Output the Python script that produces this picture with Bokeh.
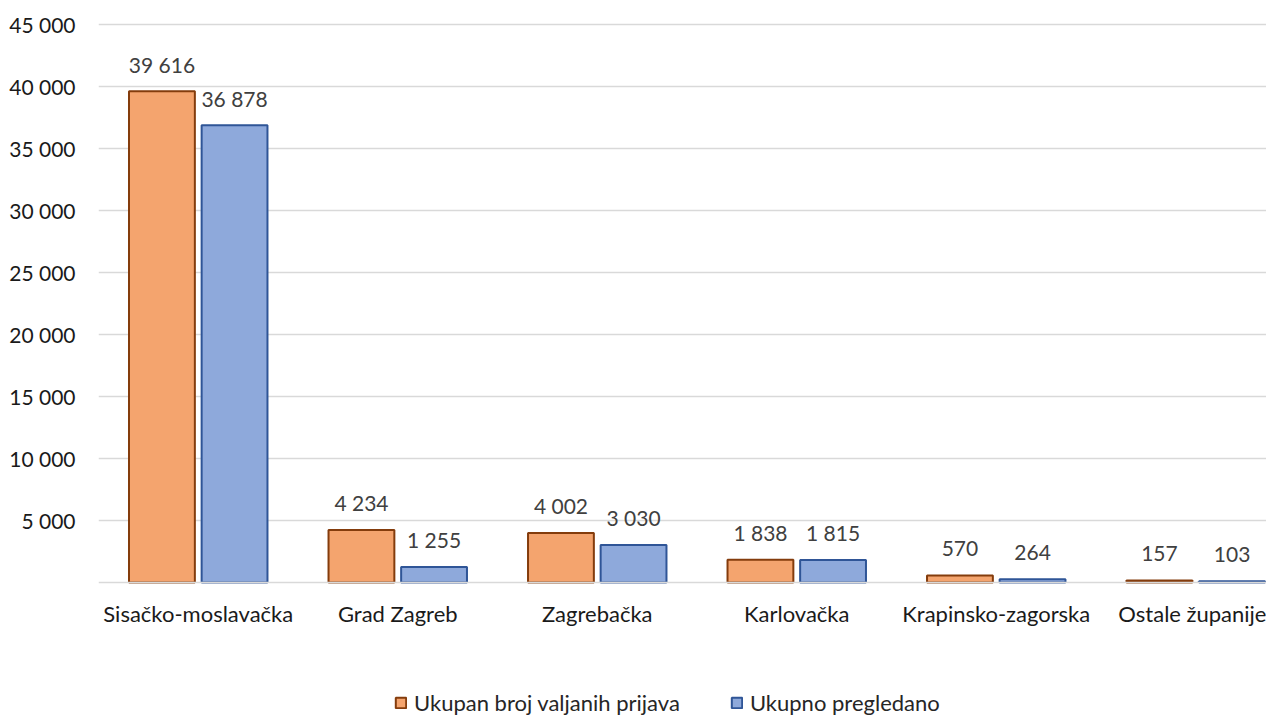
from bokeh.plotting import figure
from bokeh.models import ColumnDataSource, FixedTicker, Range1d, Legend, LegendItem
from bokeh.transform import dodge
from bokeh.core.properties import value
from bokeh.embed import file_html
from bokeh.resources import INLINE

categories = ["Sisačko-moslavačka", "Grad Zagreb", "Zagrebačka", "Karlovačka",
              "Krapinsko-zagorska", "Ostale županije"]
prijave = [39616, 4234, 4002, 1838, 570, 157]
pregledano = [36878, 1255, 3030, 1815, 264, 103]
series_names = ["Ukupan broj valjanih prijava", "Ukupno pregledano"]
y_ticks = [5000, 10000, 15000, 20000, 25000, 30000, 35000, 40000, 45000]
y_tick_labels = ["5 000", "10 000", "15 000", "20 000", "25 000", "30 000",
                 "35 000", "40 000", "45 000"]


def fmt(v):
    return f"{v:,}".replace(",", " ")


idx = list(range(len(categories)))
src = ColumnDataSource(dict(
    x=idx, a=prijave, b=pregledano,
    al=[fmt(v) for v in prijave], bl=[fmt(v) for v in pregledano],
))

FONT = "Lato"
FS = "21px"
FS_CAT = "22px"
W, H = 1266, 718
LEFT, TOP = 98, 20
FRAME_W = W - LEFT
FRAME_H = H - TOP
GROUP_PX = 199.5
PX_PER_UNIT = 62 / 5000.0
ZERO_PX = 582          # pixel row of the zero line inside the figure
y_end = (ZERO_PX - TOP) / PX_PER_UNIT
y_start = -(H - ZERO_PX) / PX_PER_UNIT

p = figure(width=W, height=H, output_backend="svg", toolbar_location=None,
           x_range=Range1d(-0.5, FRAME_W / GROUP_PX - 0.5),
           y_range=Range1d(y_start, y_end),
           min_border_left=LEFT, min_border_right=0, min_border_top=TOP,
           min_border_bottom=0)
p.outline_line_color = None
p.background_fill_color = "white"
p.border_fill_color = "white"

OFF = 0.182
r1 = p.vbar(x=dodge("x", -OFF), top="a", width=0.33, source=src,
            fill_color="#F4A46E", line_color="#843C0C", line_width=2)
r2 = p.vbar(x=dodge("x", OFF), top="b", width=0.33, source=src,
            fill_color="#8EA9DB", line_color="#2F5597", line_width=2)

p.text(x=dodge("x", -OFF), y="a", text="al", source=src, text_align="center",
       text_baseline="alphabetic", y_offset=-27, text_font=value(FONT),
       text_font_size=FS, text_color="#404040")
p.text(x=dodge("x", OFF), y="b", text="bl", source=src, text_align="center",
       text_baseline="alphabetic", y_offset=-27, text_font=value(FONT),
       text_font_size=FS, text_color="#404040")

p.xgrid.visible = False
p.ygrid.grid_line_color = "#D9D9D9"
p.ygrid.grid_line_width = 1.5

p.yaxis.ticker = FixedTicker(ticks=y_ticks)
p.yaxis.major_label_overrides = dict(zip(y_ticks, y_tick_labels))
p.yaxis.axis_line_color = None
p.yaxis.major_tick_line_color = None
p.yaxis.major_tick_out = 0
p.yaxis.minor_tick_line_color = None
p.yaxis.major_label_standoff = 23
p.yaxis.major_label_text_font = FONT
p.yaxis.major_label_text_font_size = FS
p.yaxis.major_label_text_color = "#1a1a1a"

p.xaxis.fixed_location = 0
p.xaxis.ticker = FixedTicker(ticks=idx)
p.xaxis.major_label_overrides = dict(zip(idx, categories))
p.xaxis.axis_line_color = "#D9D9D9"
p.xaxis.axis_line_width = 1.5
p.xaxis.major_tick_line_color = None
p.xaxis.major_tick_out = 0
p.xaxis.minor_tick_line_color = None
p.xaxis.major_label_standoff = 17
p.xaxis.major_label_text_font = FONT
p.xaxis.major_label_text_font_size = FS_CAT
p.xaxis.major_label_text_color = "#1a1a1a"

legend = Legend(items=[LegendItem(label=series_names[0], renderers=[r1]),
                       LegendItem(label=series_names[1], renderers=[r2])],
                orientation="horizontal", location=(296, 2))
legend.border_line_color = None
legend.background_fill_alpha = 0
legend.padding = 0
legend.margin = 0
legend.glyph_width = 13
legend.glyph_height = 13
legend.label_standoff = 7
legend.spacing = 50
legend.label_height = 22
legend.label_text_font = FONT
legend.label_text_font_size = FS_CAT
legend.label_text_color = "#262626"
p.add_layout(legend)

open("out.html", "w").write(file_html(p, INLINE))
